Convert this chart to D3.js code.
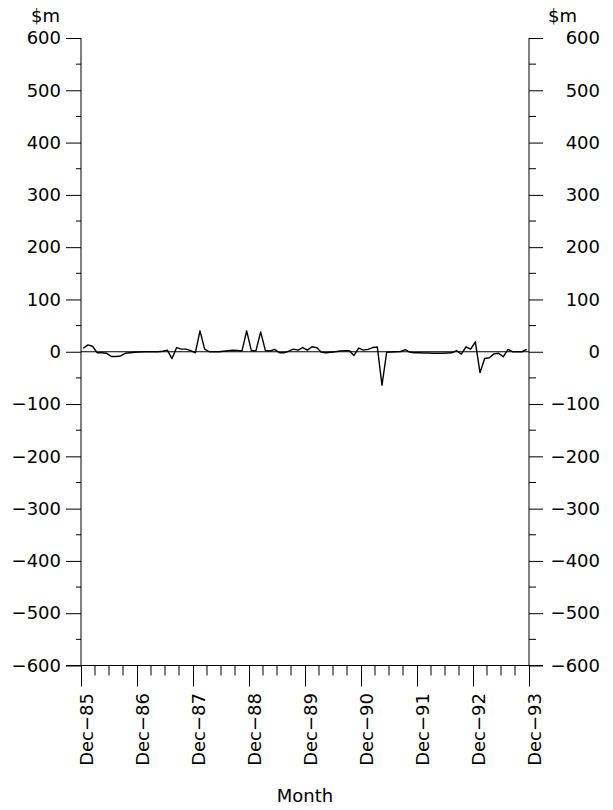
<!DOCTYPE html>
<html>
<head>
<meta charset="utf-8">
<script src="https://cdn.jsdelivr.net/npm/d3@7"></script>
<style>
  html, body { margin: 0; padding: 0; background: #fff; }
  svg { display: block; }
  text { font-family: "DejaVu Sans", sans-serif; font-size: 18px; fill: #000; font-weight: 400; }
</style>
</head>
<body>
<svg id="chart" width="613" height="810"></svg>
<script>
// ---- data ----
const xTickLabels = ["Dec\u221285","Dec\u221286","Dec\u221287","Dec\u221288","Dec\u221289","Dec\u221290","Dec\u221291","Dec\u221292","Dec\u221293"];
const yTickValues = [-600,-500,-400,-300,-200,-100,0,100,200,300,400,500,600];
const unitLabel = "$m";
const xTitle = "Month";
// monthly values, Jan-86 .. Dec-93 ($m)
const values = [
  7, 13, 10, -2, -2, -3, -9, -9, -8, -3, -2, -1,
  -0.5, 0, 0, 0, 0, 1, 3, -13, 8, 5, 5, 2,
  -2, 40, 5, 0, 0, 0, 1, 2, 3, 2.5, 1.5, 40,
  2, 2, 38, 2.5, 1.5, 4.5, -2, -2, 1, 5, 3, 8,
  3, 9.5, 8, -1, -2, -1, 0, 1.5, 2, 2, -7, 7,
  3, 4.5, 8, 9, -64, -1, -0.5, 0, 0.5, 4, -1, -2,
  -2, -2.5, -2.5, -3, -3, -3, -2.5, -2, 2, -4.5, 9.5, 5,
  19, -40, -13, -11.5, -4, -3, -9.5, 4.5, 0, 0, 0, 4.5
];

// ---- layout ----
const L = 81, R = 529, T = 38, B = 665.5;
const svg = d3.select("#chart");
const x = d3.scaleLinear().domain([0, 96]).range([L, R]);
const y = d3.scaleLinear().domain([-600, 600]).range([B, T]);

const fmt = v => v < 0 ? "\u2212" + Math.abs(v) : String(v);
const minorY = d3.range(-550, 600, 100);

// left axis
const leftAxis = d3.axisLeft(y).tickValues(yTickValues).tickSize(15).tickPadding(5).tickFormat(fmt);
const gl = svg.append("g").attr("transform", `translate(${L},0)`).call(leftAxis);
gl.select(".domain").remove();
gl.append("g").selectAll("line").data(minorY).join("line")
  .attr("x1", -5).attr("x2", 0).attr("y1", d => y(d)).attr("y2", d => y(d)).attr("stroke", "#000");

// right axis
const rightAxis = d3.axisRight(y).tickValues(yTickValues).tickSize(14).tickPadding(0).tickFormat(fmt);
const gr = svg.append("g").attr("transform", `translate(${R},0)`).call(rightAxis);
gr.select(".domain").remove();
gr.selectAll(".tick text").attr("text-anchor", "end").attr("x", 600 - R);
gr.append("g").selectAll("line").data(minorY).join("line")
  .attr("x1", 0).attr("x2", 7).attr("y1", d => y(d)).attr("y2", d => y(d)).attr("stroke", "#000");

[gl, gr].forEach(g => {
  g.selectAll(".tick line").attr("stroke", "#000");
  g.selectAll(".tick text").style("font-family", "DejaVu Sans").style("font-size", "18px").attr("fill", "#000");
});

// vertical axis lines
svg.append("line").attr("x1", L).attr("x2", L).attr("y1", T).attr("y2", B).attr("stroke", "#000");
svg.append("line").attr("x1", R).attr("x2", R).attr("y1", T).attr("y2", B).attr("stroke", "#000");

// bottom axis
const majorX = d3.range(0, 97, 12);
const minorX = d3.range(0, 97, 3).filter(d => d % 12 !== 0);
const bottomAxis = d3.axisBottom(x).tickValues(majorX).tickSize(21).tickFormat((d, i) => xTickLabels[i]);
const gb = svg.append("g").attr("transform", `translate(0,${B})`).call(bottomAxis);
gb.select(".domain").remove();
gb.selectAll(".tick line").attr("stroke", "#000");
gb.selectAll(".tick text")
  .style("font-family", "DejaVu Sans").style("font-size", "18px").attr("fill", "#000")
  .attr("text-anchor", "end")
  .attr("transform", "translate(0,27.5) rotate(-90)")
  .attr("x", 0).attr("y", 0).attr("dy", "11px");
gb.append("g").selectAll("line").data(minorX).join("line")
  .attr("x1", d => x(d)).attr("x2", d => x(d)).attr("y1", 0).attr("y2", 10).attr("stroke", "#000");
svg.append("line").attr("x1", L - 15).attr("x2", R + 14).attr("y1", B).attr("y2", B).attr("stroke", "#000");

// zero line
svg.append("line").attr("x1", L).attr("x2", R).attr("y1", y(0)).attr("y2", y(0)).attr("stroke", "#000");

// data line
const line = d3.line().x((d, i) => x(i + 0.5)).y(d => y(d));
svg.append("path").datum(values).attr("d", line)
  .attr("fill", "none").attr("stroke", "#000").attr("stroke-width", 1.4).attr("stroke-linejoin", "round");

// unit labels
svg.append("text").attr("x", 60).attr("y", 22).attr("text-anchor", "end").text(unitLabel);
svg.append("text").attr("x", 548).attr("y", 22).attr("text-anchor", "start").text(unitLabel);

// x title
svg.append("text").attr("x", (L + R) / 2).attr("y", 802).attr("text-anchor", "middle").text(xTitle);
</script>
</body>
</html>
